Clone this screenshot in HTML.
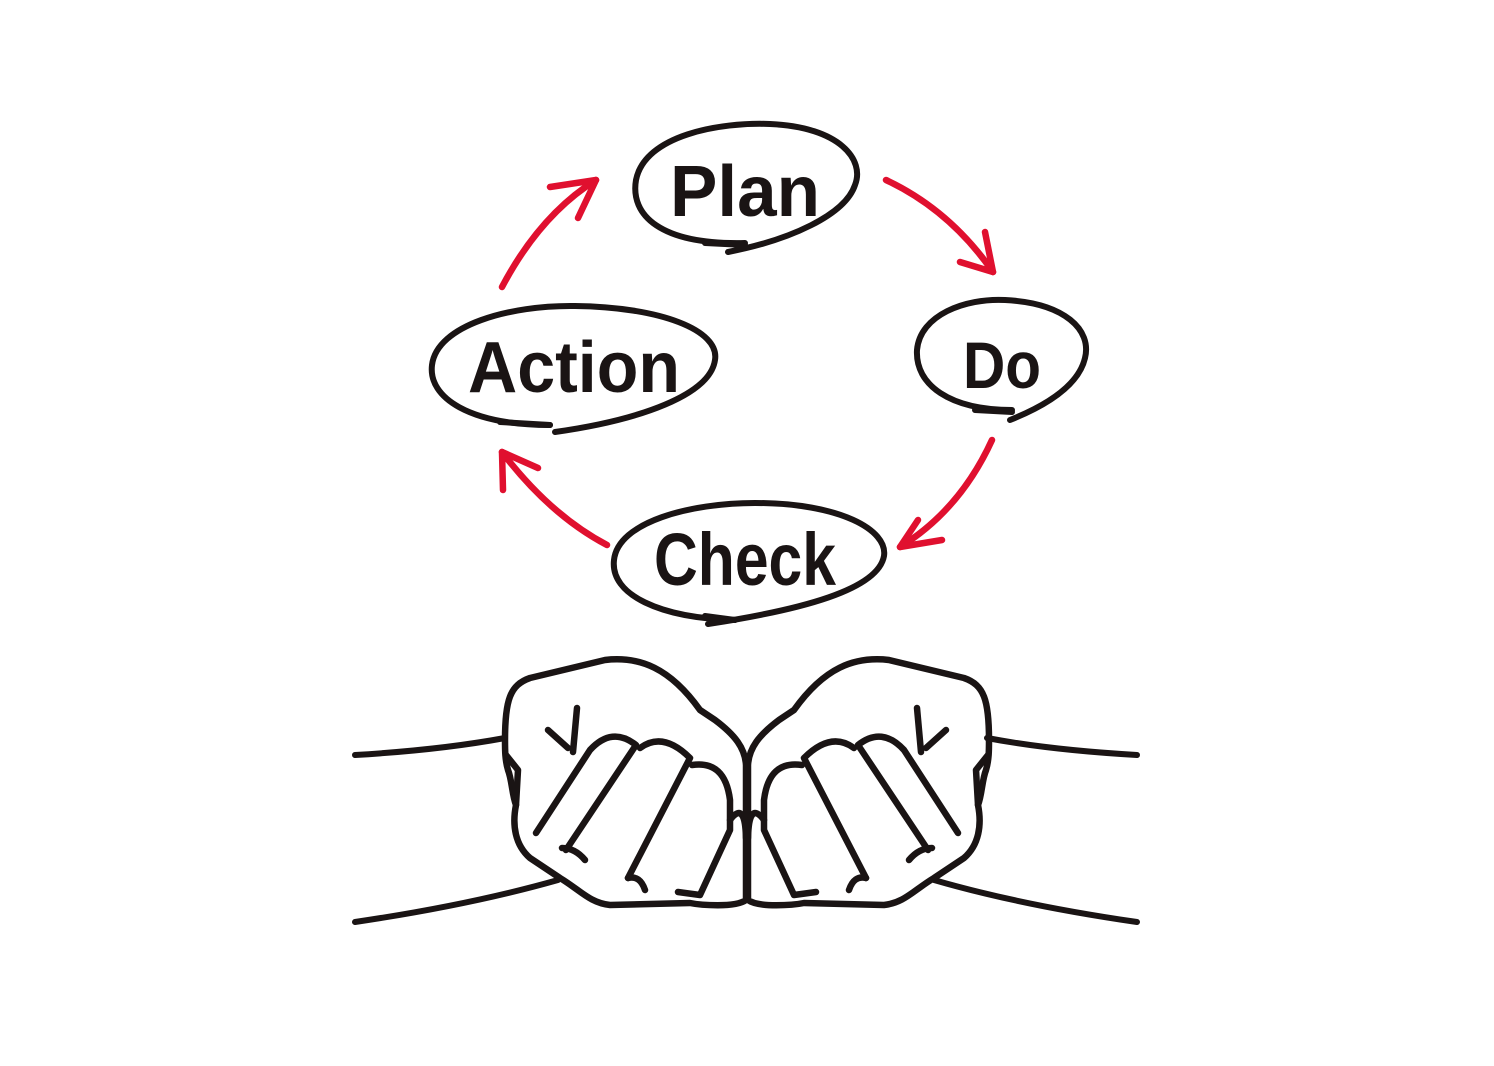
<!DOCTYPE html>
<html><head><meta charset="utf-8"><style>
html,body{margin:0;padding:0;background:#fff;}
svg{display:block}
text{font-family:"Liberation Sans Narrow","Liberation Sans",sans-serif;font-weight:bold;fill:#1a1414}
</style></head><body>
<svg width="1494" height="1066" viewBox="0 0 1494 1066" xmlns="http://www.w3.org/2000/svg">
<g fill="none" stroke="#1a1414" stroke-width="6" stroke-linecap="round" stroke-linejoin="round">
<path d="M745,243 C660,245 630,215 636,180 C645,135 720,122 770,124 C840,127 865,160 855,185 C845,215 790,240 728,252"/>
<path d="M705,243 L745,245"/>
<path d="M1012,410 C950,410 915,385 917,350 C920,315 965,298 1005,300 C1065,303 1092,330 1085,358 C1078,388 1040,408 1010,420"/>
<path d="M975,410 L1012,412"/>
<path d="M550,425 C470,425 428,398 432,365 C437,325 510,305 575,306 C660,307 720,330 715,360 C710,395 640,420 555,432"/>
<path d="M500,422 L550,425"/>
<path d="M735,620 C660,618 610,595 614,560 C618,522 690,503 755,503 C840,503 888,530 884,556 C878,590 800,610 708,624"/>
<path d="M705,616 L735,620"/>
<path d="M355,755 Q440,750 505,738"/>
<path d="M355,922 Q470,905 558,880"/>
<path d="M1137,755 Q1050,750 987,738"/>
<path d="M1137,922 Q1020,905 934,880"/>
<g id="h" stroke-width="6.5">
<path d="M505,740 C505,700 510,685 530,678 L605,660 C640,656 670,668 700,710 L715,720 C735,735 745,748 746,765 L746,900 C735,908 700,905 690,903 L610,905 C590,903 580,890 560,878 L530,858 C515,845 512,825 516,805 C512,795 512,780 508,770 C505,760 505,750 505,740 Z"/>
<path d="M536,833 L590,750 Q612,726 636,745 L566,850"/>
<path d="M577,708 L573,752 M548,730 L568,748"/>
<path d="M640,748 Q663,731 690,758 L628,878"/>
<path d="M562,848 Q575,848 585,860 M628,878 Q640,875 645,890"/>
<path d="M692,765 Q725,760 730,800 L730,830 L700,895 L678,892"/>
<path d="M730,820 Q745,800 746,838"/>
<path d="M516,805 L518,770 L506,755"/>
</g>
<use href="#h" transform="translate(1494,0) scale(-1,1)"/>
</g>
<g fill="none" stroke="#e0102f" stroke-width="6.5" stroke-linecap="round" stroke-linejoin="round">
<path d="M886,180 Q950,210 993,272"/><path d="M960,262 L993,272 L985,232"/>
<path d="M992,440 Q960,510 900,547"/><path d="M918,520 L900,547 L942,540"/>
<path d="M607,545 Q550,515 502,452"/><path d="M503,490 L502,452 L538,468"/>
<path d="M502,287 Q540,215 596,180"/><path d="M550,187 L596,180 L578,218"/>
</g>
<text x="670" y="216" font-size="72" textLength="150" lengthAdjust="spacingAndGlyphs">Plan</text>
<text x="963" y="388" font-size="66" textLength="78" lengthAdjust="spacingAndGlyphs">Do</text>
<text x="468" y="392" font-size="72" textLength="212" lengthAdjust="spacingAndGlyphs">Action</text>
<text x="654" y="585" font-size="74" textLength="182" lengthAdjust="spacingAndGlyphs">Check</text>
</svg>
</body></html>
